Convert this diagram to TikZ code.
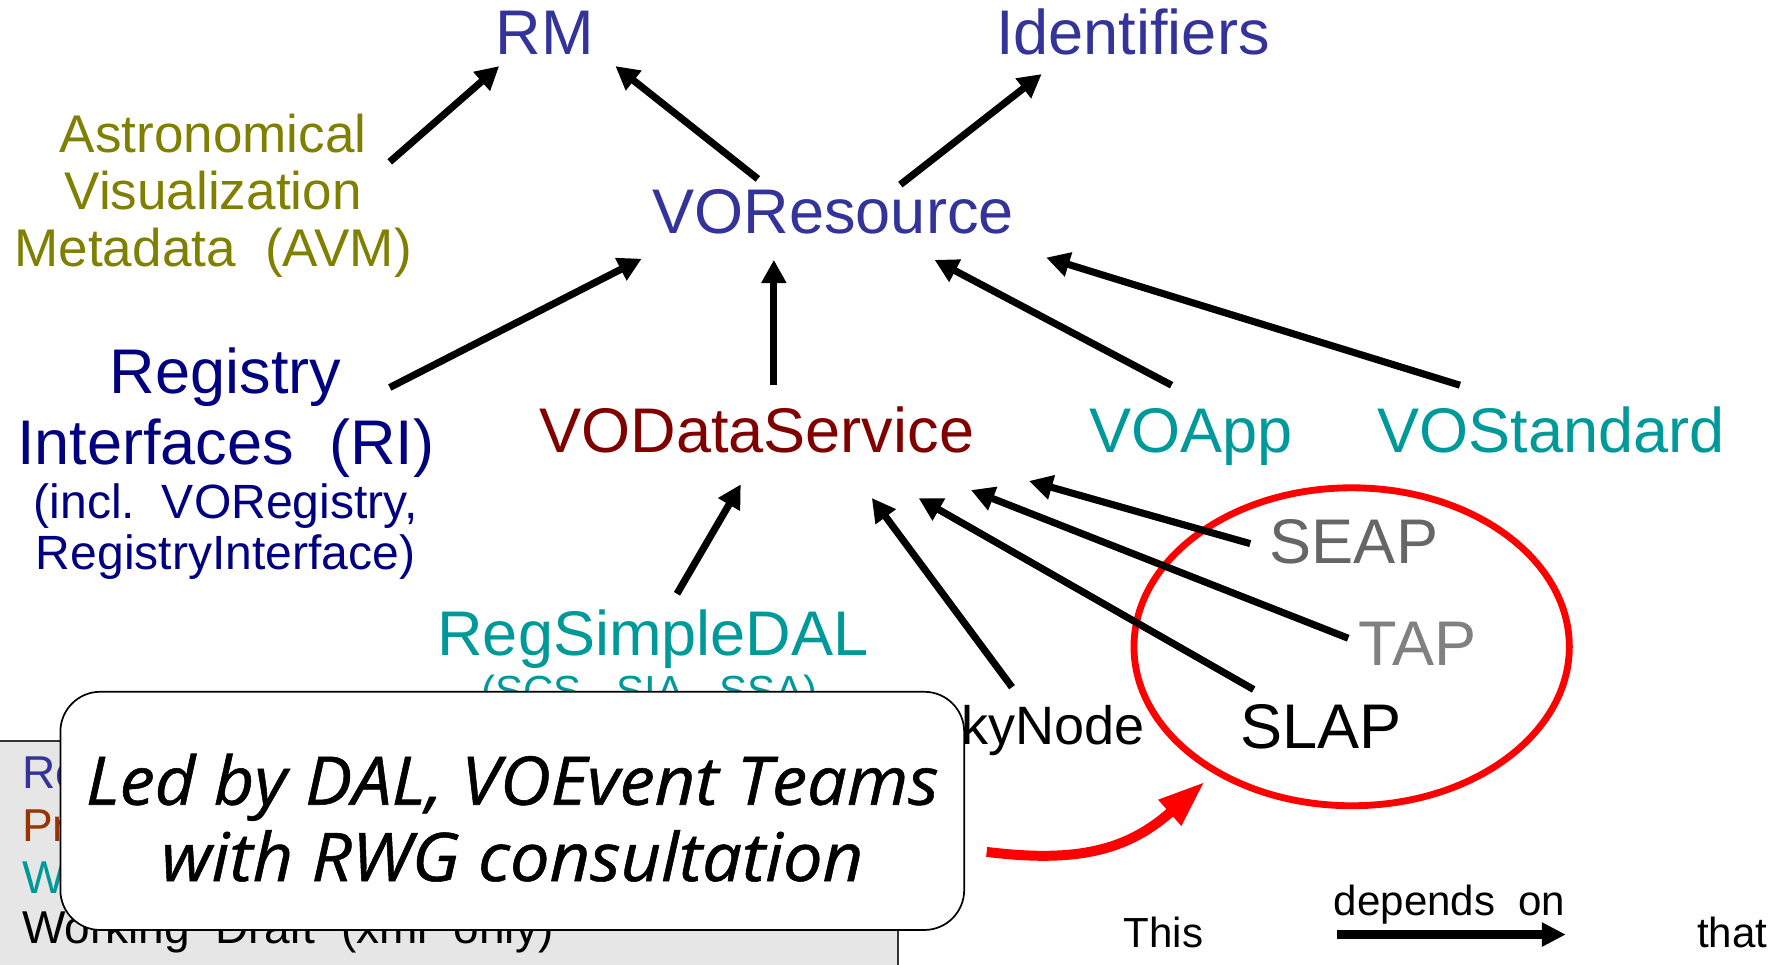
\documentclass[tikz,border=0pt]{standalone}
\usepackage{fontspec}
\setmainfont{Liberation Sans}
\newfontfamily\handfont{Open Sans}[FakeStretch=1.05,FakeBold=0.8]
\usetikzlibrary{calc,arrows.meta,shapes.geometric}

\definecolor{recblue}{HTML}{333399}
\definecolor{avmolive}{HTML}{808000}
\definecolor{rinavy}{HTML}{000080}
\definecolor{vodsred}{HTML}{800000}
\definecolor{wdteal}{HTML}{009999}
\definecolor{prbrown}{HTML}{993300}
\definecolor{keygray}{HTML}{E6E6E6}

\newcommand{\fsz}[2]{\fontsize{#1}{#2}\selectfont}

\tikzset{
  std/.style={inner sep=0pt, anchor=base, font=\fsz{31.5}{36}},
  small/.style={inner sep=0pt, anchor=base, font=\fsz{21}{24}},
  keytext/.style={inner sep=0pt, anchor=base west, font=\fsz{23}{26}},
  dep/.style={line width=1.25mm, -{Triangle[length=4.1mm,width=4.2mm]}},
}

\begin{document}
\begin{tikzpicture}[x=0.2mm,y=-0.2mm]
			\useasboundingbox (0,0) rectangle (1568,845.9);
			
			% top row
			\node[std, text=recblue] (rm) at (478,48) {RM};
			\node[std, text=recblue] (ids) at (994,48) {Identifiers};
			\node[std, text=recblue] (vores) at (731,205) {VOResource};
			\node[inner sep=0pt, anchor=north, align=center, text=avmolive, font=\fsz{26.5}{28.45}] (avm) at (187,100) {Astronomical\\Visualization\\Metadata~~(AVM)};
			
			% middle row
			\node[inner sep=0pt, anchor=north, align=center, text=rinavy, font=\fsz{31.5}{35.3}] (ri) at (198,305) {Registry\\Interfaces~~(RI)};
			\node[inner sep=0pt, anchor=north, align=center, text=rinavy, font=\fsz{24}{25.6}] (incl) at (198,424) {(incl.~~VORegistry,\\RegistryInterface)};
			\node[std, text=vodsred] (vods) at (664,397) {VODataService};
			\node[std, text=wdteal] (voapp) at (1045,397) {VOApp};
			\node[std, text=wdteal] (vostd) at (1361,397) {VOStandard};
			
			% lower row
			\node[draw=red, line width=1.2mm, ellipse, minimum width=76.4mm, minimum height=55.8mm, inner sep=0pt] (ring) at (1186,567.5) {};
			\node[std, text=black!60] (seap) at (1188,494) {SEAP};
			\node[std, text=black!50] (tap) at (1244,584) {TAP};
			\node[std] (slap) at (1159,657) {SLAP};
			\node[inner sep=0pt, anchor=base east, font=\fsz{27}{30}] (sky) at (1005,653) {SkyNode};
			\node[std, text=wdteal] (rsd) at (573,575) {RegSimpleDAL};
			\node[inner sep=0pt, anchor=base, text=wdteal, font=\fsz{21}{24}] (ssa) at (570,619) {(SCS,~~SIA,~~SSA)};
			
			% dependencies
			\draw[dep] ($(avm.north)+(155,42)$) -- ($(rm.base)+(-40,10)$);
			\draw[dep] ($(vores.base)+(-66,-48)$) -- ($(rm.base)+(62,10)$);
			\draw[dep] ($(vores.base)+(59,-43)$) -- ($(ids.base)+(-80,17)$);
			\draw[dep] ($(ri.north)+(144,35)$) -- ($(vores.base)+(-168,22)$);
			\draw[dep] ($(vods.base)+(15,-59)$) -- ($(vores.base)+(-52,23)$);
			\draw[dep] ($(voapp.base)+(-17,-59)$) -- ($(vores.base)+(89,23)$);
			\draw[dep] ($(vostd.base)+(-80,-59)$) -- ($(vores.base)+(187,21)$);
			\draw[dep] ($(rsd.base)+(21,-54)$) -- ($(vods.base)+(-14,28)$);
			\draw[dep] ($(sky.base east)+(-117,-50)$) -- ($(vods.base)+(101,40)$);
			\draw[dep] ($(slap.base)+(-59,-52)$) -- ($(vods.base)+(142,40)$);
			\draw[dep] ($(tap.base)+(-61,-24)$) -- ($(vods.base)+(188,33)$);
			\draw[dep] ($(seap.base)+(-91,-17)$) -- ($(vods.base)+(239,25)$);
			
			% key, bottom left
			\draw[fill=keygray, draw=black!80, line width=0.3mm] (-5,650) rectangle (788,850);
			\node[keytext, text=recblue] (krec) at (19,692) {Recommendation};
			\node[keytext, text=prbrown] (kpr) at (19,738) {Proposed Recommendation};
			\node[keytext, text=wdteal] (kwd) at (19,784) {Working Draft};
			\node[keytext] (kxml) at (19,828) {Working~~Draft~~(xml~~only)};
			
			% callout
			\node[draw, fill=white, rounded corners=7mm, line width=0.3mm, minimum width=158.6mm, minimum height=41.8mm, inner sep=0pt] (led) at (449.5,711.5) {};
			\node[inner sep=0pt, align=center, font=\handfont\itshape\fsz{33.5}{38.1}] (ledtext) at ($(led.center)+(0,6)$) {Led by DAL, VOEvent Teams\\with RWG consultation};
			\draw[red, line width=1.75mm, -{Triangle[length=8.2mm,width=5.6mm]}] ($(led.east)+(19,36)$) .. controls ($(led.east)+(100,46)$) and ($(ring.center)+(-196,178)$) .. ($(ring.center)+(-129,118.5)$);
			
			% key, bottom right
			\node[small] (this) at (1021,831) {This};
			\node[small] (dlabel) at (1272,803) {depends~~on};
			\node[small] (that) at (1520,831) {that};
			\draw[line width=1.6mm, -{Triangle[length=4.2mm,width=4mm]}] ($(dlabel.base west)+(3,17)$) -- ($(dlabel.base east)+(0,17)$);
			
		\end{tikzpicture}
\end{document}
